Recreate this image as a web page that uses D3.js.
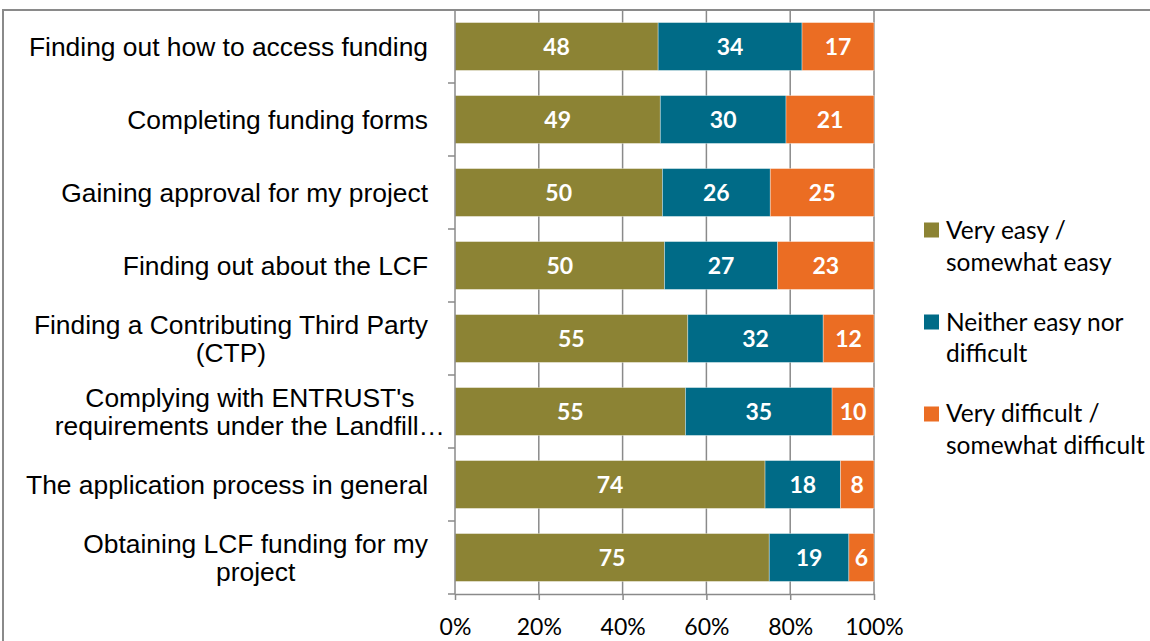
<!DOCTYPE html>
<html>
<head>
<meta charset="utf-8">
<script src="https://cdn.jsdelivr.net/npm/d3@7"></script>
<style>
  html, body { margin: 0; padding: 0; background: #fff; }
  svg { display: block; }
</style>
</head>
<body>
<svg id="chart" width="1150" height="641"></svg>
<script>
// Survey answers per funding stage (percent of respondents)
const categories = [
  "Finding out how to access funding",
  "Completing funding forms",
  "Gaining approval for my project",
  "Finding out about the LCF",
  "Finding a Contributing Third Party\n(CTP)",
  "Complying with ENTRUST's\nrequirements under the Landfill…",
  "The application process in general",
  "Obtaining LCF funding for my\nproject"
];
const easy      = [48, 49, 50, 50, 55, 55, 74, 75];
const neither   = [34, 30, 26, 27, 32, 35, 18, 19];
const difficult = [17, 21, 25, 23, 12, 10,  8,  6];

const seriesKeys   = ["easy", "neither", "difficult"];
const seriesLabels = ["Very easy /\nsomewhat easy", "Neither easy nor\ndifficult", "Very difficult /\nsomewhat difficult"];
const seriesColors = ["#8c8334", "#006b87", "#eb6d23"];

const xTickValues = [0, 0.2, 0.4, 0.6, 0.8, 1];

const rows = categories.map((c, i) => ({ category: c, easy: easy[i], neither: neither[i], difficult: difficult[i] }));

const svg = d3.select("#chart");
const axisColor = "#8a8a8a";
const labelFont = "'Liberation Sans', Arial, sans-serif";
const bodyFont = "Lato, 'Open Sans', sans-serif";

// outer chart frame
svg.append("rect")
  .attr("x", 3).attr("y", 10)
  .attr("width", 1300).attr("height", 800)
  .attr("fill", "none").attr("stroke", axisColor).attr("stroke-width", 2);

const x = d3.scaleLinear().domain([0, 1]).range([455, 874]);
const y = d3.scaleBand().domain(categories).range([10, 594])
  .paddingInner(0.344).paddingOuter(0.172);

// vertical gridlines
svg.append("g").selectAll("line")
  .data(xTickValues.slice(1))
  .join("line")
  .attr("x1", d => x(d)).attr("x2", d => x(d))
  .attr("y1", 10).attr("y2", 594)
  .attr("stroke", axisColor).attr("stroke-width", 1.5);

// stacked 100% bars
const stacked = d3.stack().keys(seriesKeys).offset(d3.stackOffsetExpand)(rows);

const layers = svg.append("g").selectAll("g")
  .data(stacked)
  .join("g")
  .attr("fill", (d, i) => seriesColors[i]);

layers.selectAll("rect")
  .data(d => d.map(s => ({ s, key: d.key })))
  .join("rect")
  .attr("x", d => x(d.s[0]))
  .attr("width", d => x(d.s[1]) - x(d.s[0]))
  .attr("y", d => y(d.s.data.category))
  .attr("height", y.bandwidth())
  .attr("stroke", "rgba(255,255,255,0.45)")
  .attr("stroke-width", 0.8);

// value labels inside segments
layers.selectAll("text")
  .data(d => d.map(s => ({ s, key: d.key })))
  .join("text")
  .attr("x", d => (x(d.s[0]) + x(d.s[1])) / 2)
  .attr("y", d => y(d.s.data.category) + y.bandwidth() / 2 + 8.5)
  .attr("text-anchor", "middle")
  .attr("fill", "#fff")
  .attr("font-family", bodyFont)
  .attr("font-weight", "bold")
  .attr("font-size", 23)
  .text(d => d.s.data[d.key]);

// category axis line and boundary ticks
const yAxis = svg.append("g");
yAxis.append("line")
  .attr("x1", x(0)).attr("x2", x(0))
  .attr("y1", 10).attr("y2", 594)
  .attr("stroke", axisColor).attr("stroke-width", 1.5);
yAxis.selectAll("line.tick")
  .data(d3.range(categories.length + 1))
  .join("line")
  .attr("class", "tick")
  .attr("x1", x(0) - 7).attr("x2", x(0))
  .attr("y1", i => y.range()[0] + i * y.step())
  .attr("y2", i => y.range()[0] + i * y.step())
  .attr("stroke", axisColor).attr("stroke-width", 1.5);

// percentage axis
const xAxis = svg.append("g")
  .attr("transform", "translate(0,594)")
  .call(d3.axisBottom(x).tickValues(xTickValues).tickSize(6).tickSizeOuter(0).tickFormat(d3.format(".0%")));
xAxis.select(".domain").attr("stroke", axisColor).attr("stroke-width", 1.5);
xAxis.selectAll(".tick line").attr("stroke", axisColor).attr("stroke-width", 1.5);
xAxis.selectAll(".tick text")
  .attr("y", 0).attr("dy", 0)
  .attr("transform", "translate(0,41)")
  .attr("fill", "#000")
  .attr("font-family", bodyFont)
  .attr("font-size", 23);

// category labels: multi-line blocks, lines centred within the block
const labelRight = 428, labelBoxRight = 445, lineGap = 28;
const catLabels = svg.append("g")
  .attr("font-family", labelFont).attr("font-size", 26.4).attr("fill", "#000");
categories.forEach(c => {
  const lines = c.split("\n");
  const t = catLabels.append("text").attr("text-anchor", "middle");
  const cy = y(c) + y.bandwidth() / 2;
  const spans = lines.map((ln, k) => t.append("tspan")
    .attr("y", cy - lineGap * (lines.length - 1) / 2 + 9 + k * lineGap)
    .text(ln));
  const widths = spans.map(s => s.node().getComputedTextLength());
  const edge = lines.some(l => l.endsWith("…")) ? labelBoxRight : labelRight;
  const cx = edge - d3.max(widths) / 2;
  spans.forEach(s => s.attr("x", cx));
});

// legend
const legend = svg.append("g").attr("font-family", bodyFont).attr("font-size", 24.5).attr("fill", "#000");
seriesLabels.forEach((lab, i) => {
  const g = legend.append("g");
  g.append("rect")
    .attr("x", 924).attr("y", 222.5 + i * 92)
    .attr("width", 15).attr("height", 15)
    .attr("fill", seriesColors[i]);
  const t = g.append("text");
  lab.split("\n").forEach((ln, k) => {
    t.append("tspan").attr("x", 946).attr("y", 239 + i * 91.5 + k * 31.5).text(ln);
  });
});
</script>
</body>
</html>
